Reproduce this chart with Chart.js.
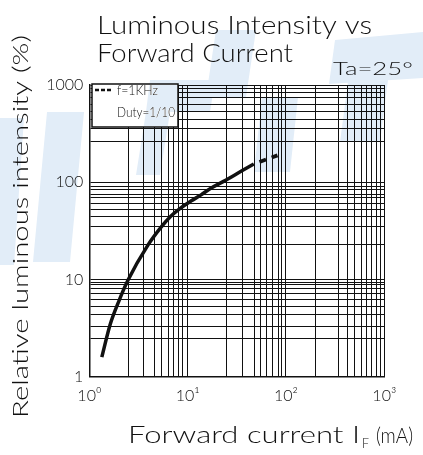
<!DOCTYPE html>
<html>
<head>
<meta charset="utf-8">
<script src="https://cdn.jsdelivr.net/npm/chart.js@4.4.1/dist/chart.umd.min.js"></script>
<style>
  html, body { margin: 0; padding: 0; background: #fff; }
  #wrap { width: 423px; height: 455px; }
</style>
</head>
<body>
<div id="wrap"><canvas id="ivChart" width="423" height="455"></canvas></div>
<script>
// curve (IF in mA, relative intensity in %)
const solidIF = [1.34, 1.63, 1.99, 2.47, 3.96, 5.45, 6.74, 8.54, 10.8, 13.7, 16.6, 23.2, 35.6, 47.1];
const solidIV = [1.59, 3.45, 5.93, 9.8, 22.7, 35.2, 44.8, 54.6, 64.1, 74.1, 84.9, 102, 131, 154];
const pulseIF = [47.1, 82];
const pulseIV = [154, 189];

// grid lines as drawn on the original sheet (not a clean log grid)
const xGrid = [1, 2.48, 3.53, 4.62, 5.41, 6.32, 7.18, 8.09, 8.95,
  10, 24.9, 36.5, 48, 55, 63.8, 73.6, 83, 91,
  100, 200, 340, 420, 500, 580, 660, 740, 830, 920, 1000];
const yGrid = [1, 2.45, 3.3, 4.4, 5.3, 6.2, 7.1, 8.0, 8.8, 9.4,
  10, 23, 35, 44, 52, 61, 69, 75, 84, 91,
  100, 260, 360, 440, 530, 630, 740, 830, 930, 1000];
const xLabels = { 1: "10\u2070", 10: "10\u00b9", 100: "10\u00b2", 1000: "10\u00b3" };
const yLabels = { 1: "1", 10: "10", 100: "100", 1000: "1000" };

const FONT = "Lato";
const INK = "#111";

function txt(ctx, s, x, y, size, w) {
  ctx.save();
  ctx.font = `300 ${size}px ${FONT}`;
  ctx.textBaseline = "alphabetic";
  ctx.textAlign = "left";
  const m = ctx.measureText(s).width;
  ctx.translate(x, y);
  if (w) ctx.scale(w / m, 1);
  ctx.fillText(s, 0, 0);
  ctx.restore();
}

const decor = {
  id: "decor",
  afterDatasetsDraw(chart) {
    const ctx = chart.ctx;
    ctx.save();
    ctx.fillStyle = INK;
    // titles
    txt(ctx, "Luminous Intensity vs", 97, 34, 25, 275);
    txt(ctx, "Forward Current", 97, 62, 25, 196);
    txt(ctx, "Ta=25\u00b0", 333, 75, 17, 80);
    // x axis title with subscript
    txt(ctx, "Forward current I", 128, 443, 23, 232);
    txt(ctx, "F", 362, 448, 13, 7);
    txt(ctx, "(mA)", 376, 443, 22, 37);
    // y axis title
    ctx.save();
    ctx.translate(28, 418);
    ctx.rotate(-Math.PI / 2);
    txt(ctx, "Relative luminous intensity (%)", 0, 0, 21, 383);
    ctx.restore();

    // legend box
    const bx = 92, by = 84, bw = 86, bh = 43;
    ctx.fillStyle = "#fff";
    ctx.fillRect(bx, by, bw, bh);
    ctx.strokeStyle = INK;
    ctx.lineWidth = 1.5;
    ctx.strokeRect(bx, by, bw, bh);
    ctx.beginPath();
    ctx.setLineDash([4, 2]);
    ctx.lineWidth = 2.5;
    ctx.moveTo(95, 90);
    ctx.lineTo(113, 90);
    ctx.stroke();
    ctx.setLineDash([]);
    ctx.fillStyle = INK;
    txt(ctx, "f=1KHz", 117, 95, 13, 41);
    txt(ctx, "Duty=1/10", 117, 117, 13, 58);
    ctx.restore();
  },
  afterDraw(chart) {
    // pale blue watermark behind the ink
    const ctx = chart.ctx;
    const shapes = [
      [[0, 118], [24, 118], [14, 265], [0, 265]],
      [[47, 112], [84, 112], [70, 262], [33, 262]],
      [[150, 80], [215, 80], [210, 112], [146, 112]],
      [[146, 112], [170, 112], [160, 175], [136, 175]],
      [[216, 30], [256, 30], [246, 97], [206, 97]],
      [[262, 97], [298, 97], [290, 172], [254, 172]],
      [[335, 40], [423, 32], [423, 78], [329, 84]],
      [[348, 82], [388, 80], [380, 142], [340, 142]]
    ];
    ctx.save();
    ctx.globalCompositeOperation = "darken";
    ctx.fillStyle = "#e2edf8";
    shapes.forEach(p => {
      ctx.beginPath();
      p.forEach(([x, y], i) => (i ? ctx.lineTo(x, y) : ctx.moveTo(x, y)));
      ctx.closePath();
      ctx.fill();
    });
    ctx.restore();
  }
};

const tickFont = { family: FONT, size: 16, weight: "300" };

new Chart(document.getElementById("ivChart"), {
  type: "line",
  data: {
    datasets: [
      {
        data: solidIF.map((x, i) => ({ x, y: solidIV[i] })),
        borderColor: INK,
        borderWidth: 3.5,
        pointRadius: 0,
        cubicInterpolationMode: "monotone",
        fill: false
      },
      {
        data: pulseIF.map((x, i) => ({ x, y: pulseIV[i] })),
        borderColor: INK,
        borderWidth: 3.8,
        borderDash: [7, 6],
        borderDashOffset: 7,
        pointRadius: 0,
        fill: false
      }
    ]
  },
  options: {
    responsive: false,
    animation: false,
    layout: { padding: { left: 0, right: 38.7, top: 85, bottom: 0 } },
    plugins: { legend: { display: false }, tooltip: { enabled: false } },
    scales: {
      x: {
        type: "logarithmic",
        min: 1, max: 1000,
        afterBuildTicks: s => { s.ticks = xGrid.map(v => ({ value: v })); },
        afterFit: s => { s.height = 78.3; },
        grid: { color: INK, lineWidth: 1, drawTicks: false },
        border: { color: INK, width: 1.5 },
        ticks: {
          autoSkip: false, maxRotation: 0, padding: 10,
          color: INK, font: tickFont,
          callback: v => xLabels[v] || ""
        }
      },
      y: {
        type: "logarithmic",
        min: 1, max: 1000,
        afterBuildTicks: s => { s.ticks = yGrid.map(v => ({ value: v })); },
        afterFit: s => { s.width = 89.3; },
        grid: { color: INK, lineWidth: 1, drawTicks: false },
        border: { color: INK, width: 1.5 },
        ticks: {
          autoSkip: false, padding: 6,
          color: INK, font: tickFont,
          callback: v => yLabels[v] || ""
        }
      }
    }
  },
  plugins: [decor]
});
</script>
</body>
</html>
